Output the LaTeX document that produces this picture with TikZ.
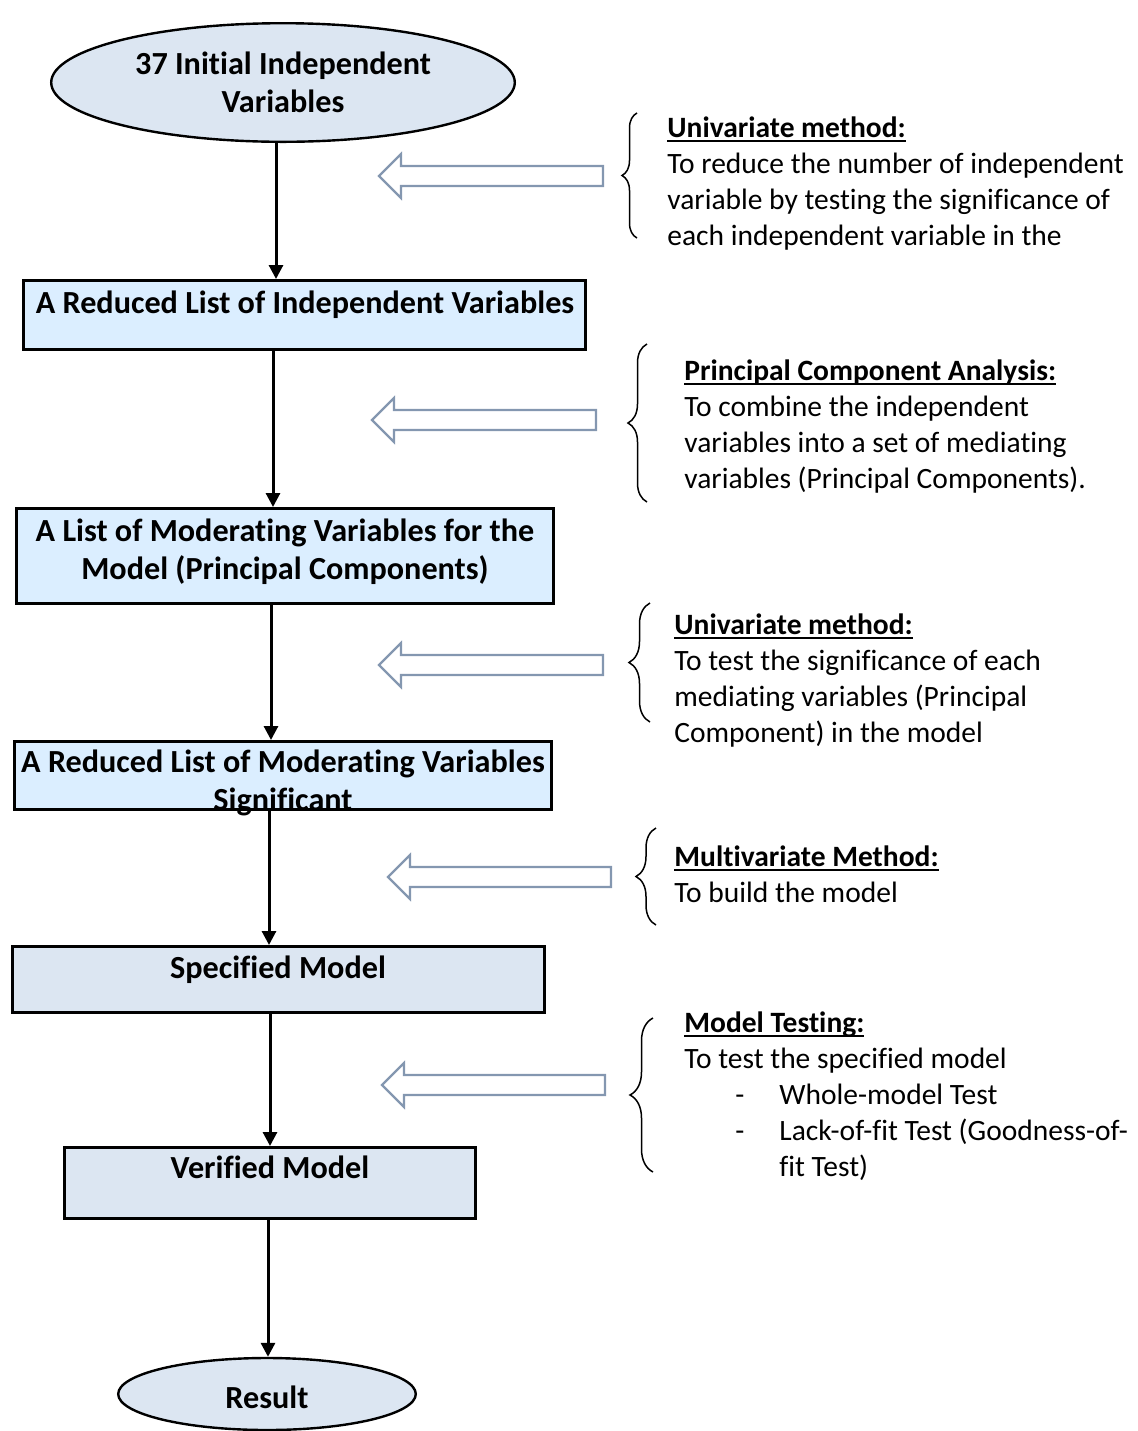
\documentclass[tikz,border=0pt]{standalone}
\usepackage{fontspec}
\setmainfont{Carlito}[Ligatures=NoCommon]
\usetikzlibrary{shapes.geometric,decorations.pathreplacing,arrows.meta}
\definecolor{lightfill}{RGB}{220,230,242}
\definecolor{skyfill}{RGB}{219,238,255}
\definecolor{hollowline}{RGB}{132,151,176}
% bold heading with a Word-style underline just below the baseline
\newcommand\headul[1]{\setbox0\hbox{\bfseries #1}\rlap{\rule[-2.6pt]{\wd0}{0.9pt}}\box0}
% open block arrow pointing left: tip x, tail x, centre y
\newcommand\hollowarrow[3]{\draw[hollow] (#1,#3) -- (#1+22,#3-22) -- (#1+22,#3-10) -- (#2,#3-10) -- (#2,#3+10) -- (#1+22,#3+10) -- (#1+22,#3+22) -- cycle;}
\begin{document}
\begin{tikzpicture}[x=0.5pt,y=-0.5pt,
  flow/.style={line width=1.5pt,-{Triangle[length=7pt,width=7pt]}},
  stage/.style={draw,line width=1.5pt,rectangle,inner sep=0pt},
  oval/.style={draw,line width=1.2pt,ellipse,fill=lightfill,inner sep=0pt,
    font=\fontsize{16.1pt}{19pt}\selectfont\bfseries,align=center},
  stagetext/.style={anchor=base,inner sep=0pt,align=center,
    font=\fontsize{16.1pt}{19pt}\selectfont\bfseries},
  note/.style={anchor=base west,inner sep=0pt,align=left,
    font=\fontsize{14.75pt}{18pt}\selectfont},
  hollow/.style={draw=hollowline,line width=1.1pt,fill=white},
  curly/.style={draw,line width=0.75pt,decorate,decoration={brace,amplitude=#1}},
]
\useasboundingbox (0,0) rectangle (1138,1431);

% flow stages
\node[oval,minimum width=231.8pt,minimum height=59.3pt] (top) at (283,82.5)
  {37 Initial Independent\\Variables};
\node[stage,fill=skyfill,minimum width=281pt,minimum height=34.5pt] (b1) at (304.5,315) {};
\node[stage,fill=skyfill,minimum width=268.5pt,minimum height=47.5pt] (b2) at (285,556) {};
\node[stage,fill=skyfill,minimum width=268.5pt,minimum height=34pt] (b3) at (283,775.5) {};
\node[stage,fill=lightfill,minimum width=266pt,minimum height=33pt] (b4) at (278.5,979.5) {};
\node[stage,fill=lightfill,minimum width=205.5pt,minimum height=35.5pt] (b5) at (270,1183) {};
\node[oval,minimum width=148.8pt,minimum height=36pt] (res) at (267,1394) {};

% stage captions (base anchor = baseline of the last line)
\node[stagetext] (t1) at (305,313) {A Reduced List of Independent Variables};
\node[stagetext] (t2) at (285,579) {A List of Moderating Variables for the\\Model (Principal Components)};
\node[stagetext] (t3) at (283,810) {A Reduced List of Moderating Variables\\Significant};
\node[stagetext] (t4) at (278,978) {Specified Model};
\node[stagetext] (t5) at (270,1178) {Verified Model};
\node[stagetext] (t6) at (267,1408) {Result};

% connectors
\coordinate (c1) at (276,0);
\coordinate (c2) at (273,0);
\coordinate (c3) at (271,0);
\coordinate (c4) at (269,0);
\coordinate (c5) at (270,0);
\coordinate (c6) at (268,0);
\draw[flow] (top.south -| c1) -- (b1.north -| c1);
\draw[flow] (b1.south -| c2) -- (b2.north -| c2);
\draw[flow] (b2.south -| c3) -- (b3.north -| c3);
\draw[flow] (b3.south -| c4) -- (b4.north -| c4);
\draw[flow] (b4.south -| c5) -- (b5.north -| c5);
\draw[flow] (b5.south -| c6) -- (res.north -| c6);

% method arrows
\hollowarrow{379}{603}{176}
\hollowarrow{372}{596}{420}
\hollowarrow{379}{603}{665}
\hollowarrow{388}{611}{877}
\hollowarrow{382}{605}{1085}

% braces
\draw[curly=7.5pt] (637,238) -- (637,113);
\draw[curly=9.5pt] (647,502) -- (647,344);
\draw[curly=10.5pt] (650,722) -- (650,603);
\draw[curly=10pt] (656,925) -- (656,828);
\draw[curly=11.5pt] (653,1172) -- (653,1018);

% method notes (base anchor = baseline of the last line)
\node[note] (n1) at (667,245) {\headul{Univariate method:}\\To reduce the number of independent\\variable by testing the significance of\\each independent variable in the};
\node[note] (n2) at (684,488) {\headul{Principal Component Analysis:}\\To combine the independent\\variables into a set of mediating\\variables (Principal Components).};
\node[note] (n3) at (674,742) {\headul{Univariate method:}\\To test the significance of each\\mediating variables (Principal\\Component) in the model};
\node[note] (n4) at (674,902) {\headul{Multivariate Method:}\\To build the model};
\node[note] (n5) at (684,1176) {\headul{Model Testing:}\\To test the specified model\\\hspace*{25.5pt}\makebox[22pt][l]{-}Whole-model Test\\\hspace*{25.5pt}\makebox[22pt][l]{-}Lack-of-fit Test (Goodness-of-\\\hspace*{47.5pt}fit Test)};
\end{tikzpicture}
\end{document}
